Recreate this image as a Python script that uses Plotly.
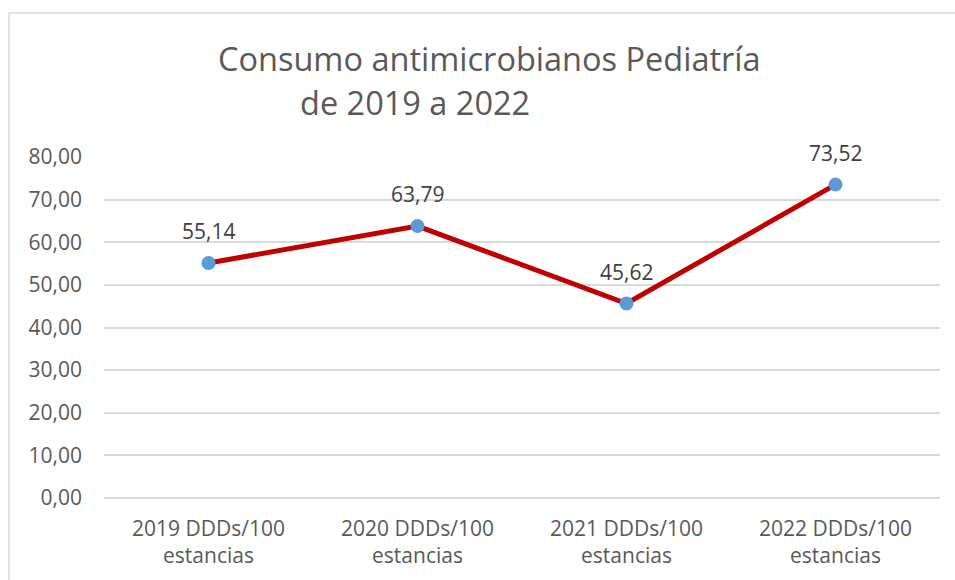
import plotly.graph_objects as go

categories = ["2019 DDDs/100<br>estancias", "2020 DDDs/100<br>estancias",
              "2021 DDDs/100<br>estancias", "2022 DDDs/100<br>estancias"]
values = [55.14, 63.79, 45.62, 73.52]
title_line1 = "Consumo antimicrobianos Pediatría"
title_line2 = "de 2019 a 2022"

W, H = 955, 580
L, R, T, B = 104, 15, 157, 82
pw, ph = W - L - R, H - T - B

fig = go.Figure()
fig.add_trace(go.Scatter(
    x=categories, y=values, mode="lines+markers",
    line=dict(color="#c00000", width=5),
    marker=dict(color="#5b9bd5", size=14),
    cliponaxis=False, showlegend=False, hoverinfo="skip",
))
for c, v in zip(categories, values):
    fig.add_annotation(x=c, y=v, text=f"{v:.2f}".replace(".", ","), showarrow=False,
                       yshift=32, xanchor="center", yanchor="middle",
                       font=dict(family="Open Sans", size=21, color="#404040"))

def px(x):
    return (x - L) / pw

def py(y):
    return (H - B - y) / ph

fig.add_shape(type="rect", xref="paper", yref="paper",
              x0=px(9), x1=px(990), y0=py(620), y1=py(13),
              line=dict(color="#d9d9d9", width=1.5), fillcolor="rgba(0,0,0,0)", layer="below")

fig.add_annotation(text=title_line1, xref="paper", yref="paper", x=px(489), y=py(58),
                   showarrow=False, xanchor="center", yanchor="middle",
                   font=dict(family="Open Sans", size=32.5, color="#595959"))
fig.add_annotation(text=title_line2, xref="paper", yref="paper", x=px(298), y=py(103),
                   showarrow=False, xanchor="left", yanchor="middle",
                   font=dict(family="Open Sans", size=32.5, color="#595959"))

fig.update_layout(
    width=W, height=H, margin=dict(l=L, r=R, t=T, b=B, autoexpand=False),
    paper_bgcolor="white", plot_bgcolor="white", separators=",.",
    xaxis=dict(range=[-0.5, 3.5], showgrid=False, showline=False, zeroline=False,
               ticks="", tickfont=dict(family="Open Sans", size=21, color="#595959"),
               ticklabelstandoff=16),
    yaxis=dict(range=[0, 80], dtick=10, tickformat=".2f", showgrid=True,
               gridcolor="#d9d9d9", gridwidth=1.5, zeroline=True, zerolinecolor="#d9d9d9",
               zerolinewidth=1.5, showline=False, ticks="",
               tickfont=dict(family="Open Sans", size=21, color="#595959"),
               ticklabelstandoff=21),
)

fig.write_html("out.html", config={"displayModeBar": False},
               post_script="document.body.style.margin='0';")
